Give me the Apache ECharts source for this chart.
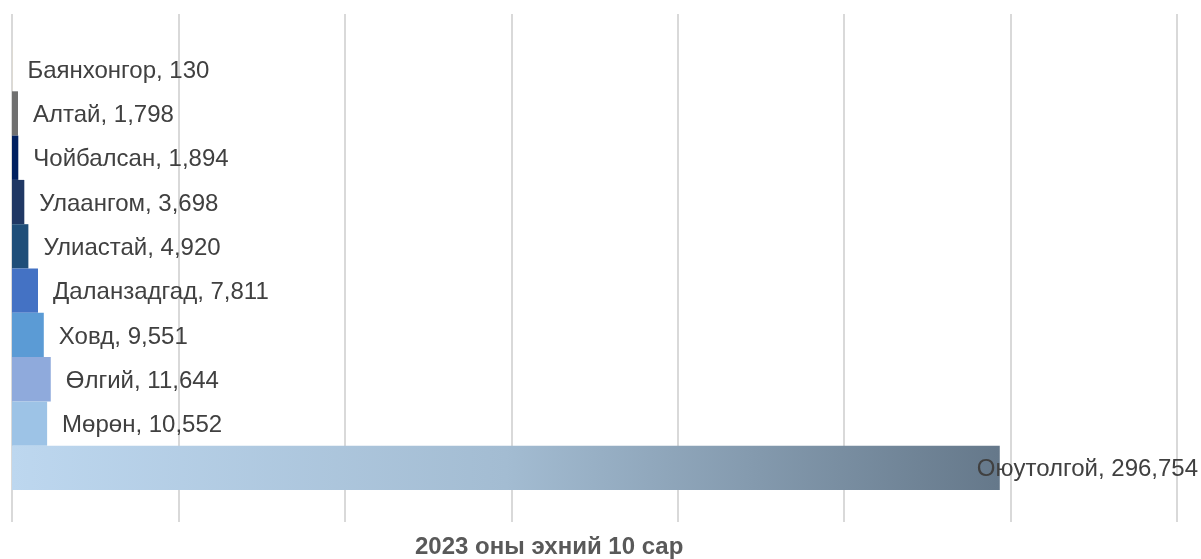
<!DOCTYPE html>
<html>
<head>
<meta charset="utf-8">
<script src="https://cdn.jsdelivr.net/npm/echarts@6/dist/echarts.min.js"></script>
<style>
html,body{margin:0;padding:0;background:#fff;}
#chart{width:1201px;height:559px;}
</style>
</head>
<body>
<div id="chart"></div>
<script>
const categories = ['Баянхонгор','Алтай','Чойбалсан','Улаангом','Улиастай','Даланзадгад','Ховд','Өлгий','Мөрөн','Оюутолгой'];
const values = [130, 1798, 1894, 3698, 4920, 7811, 9551, 11644, 10552, 296754];
const axisTicks = [0, 50000, 100000, 150000, 200000, 250000, 300000, 350000];
const axisTitle = '2023 оны эхний 10 сар';

const palette = ['#e4ddcc','#707070','#002060','#203864','#1f4e79','#4472c4','#5b9bd5','#8faadc','#9dc3e6', null];
const font = 'Liberation Sans, Arial, sans-serif';

const chart = echarts.init(document.getElementById('chart'));
const seriesData = values.map((v, i) => {
  const item = { value: v };
  if (i === values.length - 1) {
    item.itemStyle = {
      color: new echarts.graphic.LinearGradient(0, 0, 1, 0, [
        { offset: 0, color: '#bdd7ef' },
        { offset: 0.5, color: '#a3bcd2' },
        { offset: 1, color: '#65788a' }
      ])
    };
    item.label = { offset: [-38, 2] };
  } else {
    item.itemStyle = { color: palette[i] };
  }
  return item;
});

chart.setOption({
  animation: false,
  grid: [
    { left: 12, right: 24, top: 47, bottom: 69 },
    { left: 12, right: 24, top: 14, bottom: 37 }
  ],
  xAxis: [
    { gridIndex: 0, type: 'value', min: axisTicks[0], max: axisTicks[axisTicks.length - 1], interval: axisTicks[1] - axisTicks[0],
      axisLine: { show: false }, axisTick: { show: false }, axisLabel: { show: false }, splitLine: { show: false } },
    { gridIndex: 1, type: 'value', min: axisTicks[0], max: axisTicks[axisTicks.length - 1], interval: axisTicks[1] - axisTicks[0],
      axisLine: { show: false }, axisTick: { show: false }, axisLabel: { show: false },
      splitLine: { show: true, lineStyle: { color: '#d9d9d9', width: 2 } } }
  ],
  yAxis: [
    { gridIndex: 0, type: 'category', data: categories, inverse: true,
      axisLine: { show: false }, axisTick: { show: false }, axisLabel: { show: false }, splitLine: { show: false } },
    { gridIndex: 1, type: 'value', show: false, min: 0, max: 1, splitLine: { show: false } }
  ],
  graphic: [{
    type: 'text', left: 415, top: 535,
    style: { text: axisTitle, font: 'bold 24px ' + font, fill: '#595959' }
  }],
  series: [{
    type: 'bar',
    xAxisIndex: 0, yAxisIndex: 0,
    barCategoryGap: '0%',
    data: seriesData,
    label: {
      show: true, position: 'right', distance: 15, offset: [0, 2],
      fontFamily: font, fontSize: 24, color: '#404040',
      formatter: p => p.name + ', ' + p.value.toLocaleString('en-US')
    }
  }]
});
</script>
</body>
</html>
